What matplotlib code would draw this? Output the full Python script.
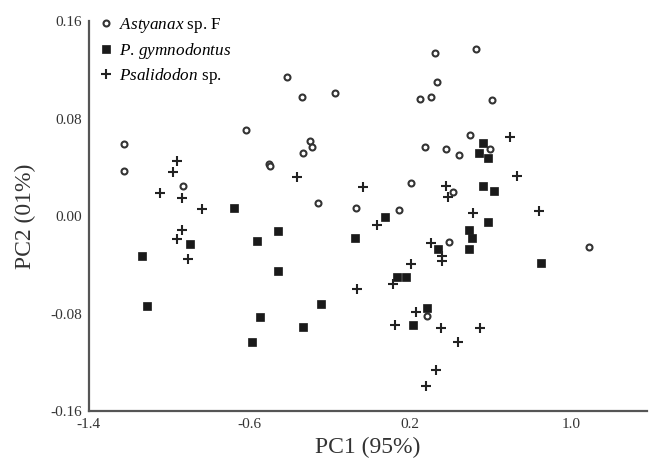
"""
PCA scatter: PC1 vs PC2, three species
"""

import matplotlib
matplotlib.use('Agg')  # no GUI
import matplotlib.pyplot as plt

# === DATA ===

astyanax_x = [-1.226, -1.226, -0.932, -0.619, -0.504, -0.499, -0.415, -0.340, -0.176, -0.300,
              -0.291, -0.335, -0.261, -0.072, 0.142, 0.202, 0.247, 0.306, 0.326, 0.336,
              0.530, 0.610, 0.500, 0.272, 0.381, 0.441, 0.600, 0.411, 0.396, 1.093, 0.282]
astyanax_y = [0.059, 0.037, 0.025, 0.071, 0.043, 0.041, 0.114, 0.098, 0.101, 0.062,
              0.057, 0.052, 0.011, 0.007, 0.005, 0.027, 0.096, 0.098, 0.134, 0.110,
              0.137, 0.095, 0.067, 0.057, 0.055, 0.050, 0.055, 0.020, -0.021, -0.025, -0.082]

gymno_x = [-1.136, -1.111, -0.898, -0.679, -0.564, -0.460, -0.460, -0.549, -0.589, -0.335,
           -0.246, -0.077, 0.073, 0.137, 0.177, 0.212, 0.282, 0.341, 0.491, 0.510,
           0.491, 0.590, 0.565, 0.620, 0.565, 0.545, 0.590, 0.854]
gymno_y = [-0.033, -0.074, -0.023, 0.007, -0.020, -0.012, -0.045, -0.083, -0.103, -0.091,
           -0.072, -0.018, -0.001, -0.050, -0.050, -0.089, -0.075, -0.027, -0.011, -0.018,
           -0.027, -0.005, 0.025, 0.021, 0.060, 0.052, 0.048, -0.038]

psal_x = [-0.962, -0.982, -1.047, -0.937, -0.838, -0.937, -0.962, -0.907, -0.365, -0.037,
          -0.067, 0.033, 0.117, 0.127, 0.202, 0.227, 0.277, 0.331, 0.356, 0.436,
          0.550, 0.306, 0.361, 0.361, 0.381, 0.391, 0.515, 0.695, 0.734, 0.844]
psal_y = [0.045, 0.036, 0.019, 0.015, 0.006, -0.011, -0.019, -0.035, 0.032, 0.024,
          -0.060, -0.007, -0.056, -0.089, -0.039, -0.079, -0.139, -0.126, -0.092, -0.103,
          -0.092, -0.022, -0.033, -0.037, 0.025, 0.016, 0.003, 0.065, 0.033, 0.004]

x_ticks = [-1.4, -0.6, 0.2, 1.0]
y_ticks = [-0.16, -0.08, 0.00, 0.08, 0.16]

# === STYLE ===

plt.rcParams['font.family'] = ['Liberation Serif', 'DejaVu Serif']
plt.rcParams['mathtext.fontset'] = 'custom'
plt.rcParams['mathtext.rm'] = 'Liberation Serif'
plt.rcParams['mathtext.it'] = 'Liberation Serif:italic'

fig = plt.figure(figsize=(6.49, 4.61), dpi=100)
ax = fig.add_axes([0.137, 0.108, 0.860, 0.846])

ax.plot(astyanax_x, astyanax_y, 'o', ms=4.3, mfc='white', mec='#333333', mew=1.5,
        label=r'$\it{Astyanax}$ sp. F')
ax.plot(gymno_x, gymno_y, 's', ms=5.6, mfc='#1a1a1a', mec='#1a1a1a', mew=0.5,
        label=r'$\it{P.\,gymnodontus}$')
ax.plot(psal_x, psal_y, '+', ms=7, mec='#222222', mew=1.5,
        label=r'$\it{Psalidodon}$ sp.')

ax.set_xlim(-1.4, 1.38)
ax.set_ylim(-0.16, 0.16)
ax.set_xticks(x_ticks)
ax.set_xticklabels([f'{v:.1f}' for v in x_ticks])
ax.set_yticks(y_ticks)
ax.set_yticklabels([f'{v:.2f}' for v in y_ticks])
ax.tick_params(length=0, labelsize=11, labelcolor='#333333')
ax.tick_params(axis='y', pad=5)
ax.tick_params(axis='x', pad=5)

for side in ('top', 'right'):
    ax.spines[side].set_visible(False)
for side in ('left', 'bottom'):
    ax.spines[side].set_color('#555555')
    ax.spines[side].set_linewidth(1.6)

ax.set_xlabel('PC1 (95%)', fontsize=17, color='#333333', labelpad=4)
ax.set_ylabel('PC2 (01%)', fontsize=17, color='#333333', labelpad=10)

ax.legend(loc='upper left', frameon=False, fontsize=12.3, handletextpad=0.25,
          handlelength=1.0, labelspacing=0.32, borderaxespad=0.1,
          bbox_to_anchor=(0.0, 1.035))

plt.savefig('out.png', dpi=100)
plt.close()
